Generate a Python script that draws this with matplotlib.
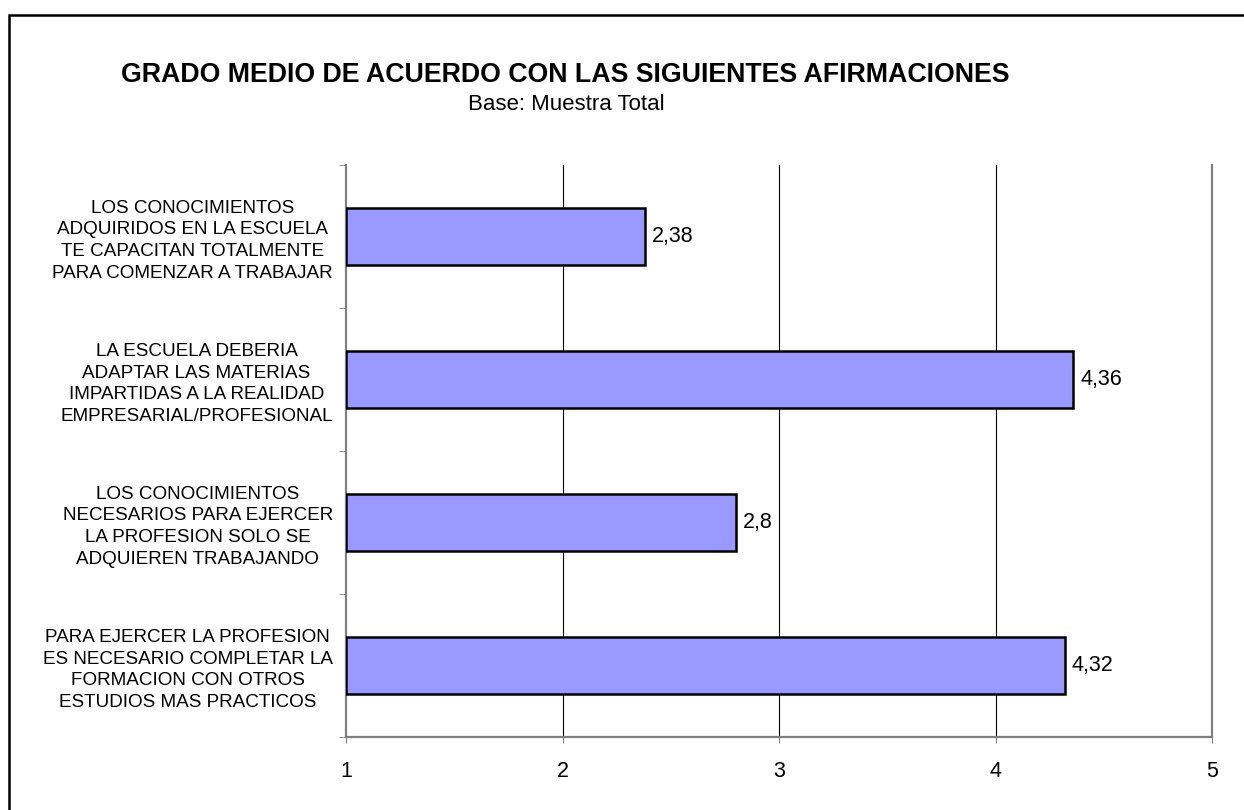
import numpy as np
import matplotlib.pyplot as plt
from matplotlib.patches import Rectangle

plt.rcParams['font.family'] = ['Liberation Sans', 'DejaVu Sans']

titulo = "GRADO MEDIO DE ACUERDO CON LAS SIGUIENTES AFIRMACIONES"
subtitulo = "Base: Muestra Total"

afirmaciones = [
    "LOS CONOCIMIENTOS\nADQUIRIDOS EN LA ESCUELA\nTE CAPACITAN TOTALMENTE\nPARA COMENZAR A TRABAJAR",
    "LA ESCUELA DEBERIA\nADAPTAR LAS MATERIAS\nIMPARTIDAS A LA REALIDAD\nEMPRESARIAL/PROFESIONAL",
    "LOS CONOCIMIENTOS\nNECESARIOS PARA EJERCER\nLA PROFESION SOLO SE\nADQUIEREN TRABAJANDO",
    "PARA EJERCER LA PROFESION\nES NECESARIO COMPLETAR LA\nFORMACION CON OTROS\nESTUDIOS MAS PRACTICOS",
]
valores = [2.38, 4.36, 2.8, 4.32]
etiquetas = ["2,38", "4,36", "2,8", "4,32"]
xticks = [1, 2, 3, 4, 5]

fig = plt.figure(figsize=(12.44, 8.10), dpi=100)
# marco exterior (solo se ven arriba e izquierda)
fig.patches.append(Rectangle((9 / 1244, -0.1), 1.2, 1 - 15 / 810 + 0.1,
                             transform=fig.transFigure, fill=False,
                             edgecolor='black', linewidth=1.8))

ax = fig.add_axes([346 / 1244, 1 - 737 / 810, (1212 - 346) / 1244, (737 - 165) / 810])

y = np.arange(len(valores))
ax.barh(y, np.array(valores) - 1, left=1, height=0.4, color='#9999FF',
        edgecolor='black', linewidth=1.8, zorder=3)
for yi, v, t in zip(y, valores, etiquetas):
    ax.annotate(t, (v, yi), xytext=(5, 0), textcoords='offset points',
                va='center', ha='left', fontsize=15.5)

ax.set_xlim(1, 5)
ax.set_ylim(3.5, -0.5)
ax.set_xticks(xticks)
ax.set_xticklabels([str(x) for x in xticks], fontsize=15.5)
ax.tick_params(axis='x', direction='out', length=4, color='#808080', pad=13)
ax.set_yticks(y)
ax.set_yticklabels(afirmaciones, fontsize=13.6, multialignment='center', linespacing=1.36)
ax.set_yticks(np.arange(-0.5, 4, 1), minor=True)
ax.tick_params(axis='y', which='major', length=0, pad=9.5)
ax.tick_params(axis='y', which='minor', direction='out', length=5, color='#808080')

for g in xticks[1:-1]:
    ax.axvline(g, color='black', linewidth=0.8, zorder=1)

ax.spines['top'].set_visible(False)
for s in ['left', 'bottom', 'right']:
    ax.spines[s].set_color('#808080')
    ax.spines[s].set_linewidth(1.6)

fig.text(565 / 1244, 1 - 75 / 810, titulo, ha='center', va='center',
         fontsize=19.3, fontweight='bold')
fig.text(566 / 1244, 1 - 105 / 810, subtitulo, ha='center', va='center', fontsize=16)

fig.savefig('out.png', dpi=100)
